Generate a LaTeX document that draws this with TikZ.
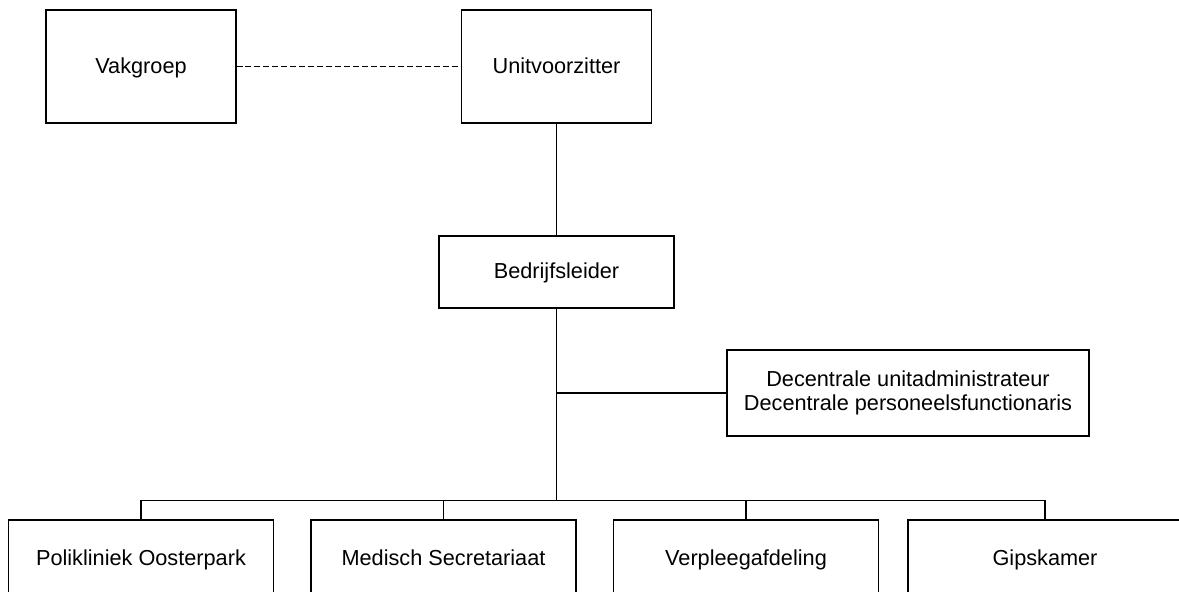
\documentclass[tikz,border=0pt]{standalone}
\usepackage{fontspec}
\setmainfont{Liberation Sans}
\usepackage{tikz}
\tikzstyle{topbox} = [rectangle, minimum width=3.8cm, minimum height=2.26cm, text height=0.92em, text depth=0.13em, text centered, draw=black, line width=0.6pt]
\tikzstyle{leaderbox} = [rectangle, minimum width=4.7cm, minimum height=1.44cm, text height=0.92em, text depth=0.13em, text centered, draw=black, line width=0.6pt]
\tikzstyle{staffbox} = [rectangle, minimum width=7.24cm, minimum height=1.72cm, align=center, draw=black, line width=0.6pt]
\tikzstyle{deptbox} = [rectangle, minimum width=5.3cm, minimum height=1.56cm, text height=0.92em, text depth=0.13em, text centered, draw=black, line width=0.6pt]
\tikzstyle{link} = [draw=black, line width=0.6pt]
\tikzstyle{dashlink} = [draw=black, line width=0.6pt, dash pattern=on 3.4pt off 1.7pt]

\begin{document}
\begin{tikzpicture}[font=\fontsize{12.35}{13.4}\selectfont]
		\useasboundingbox (0,0) rectangle (23.58,-11.84);
		\node (unit) [topbox] at (11.13,-1.33) {Unitvoorzitter};
		\node (vak) [topbox, left of = unit, xshift = -7.31cm] {Vakgroep};
		\node (bed) [leaderbox, below of = unit, yshift = -3.11cm] {Bedrijfsleider};
		\node (dec) [staffbox, right of = bed, xshift = 6.03cm, yshift = -2.42cm] {Decentrale unitadministrateur\\Decentrale personeelsfunctionaris};
		\node (med) [deptbox, below of = bed, xshift = -2.26cm, yshift = -4.74cm] {Medisch Secretariaat};
		\node (pol) [deptbox, left of = med, xshift = -5.05cm] {Polikliniek Oosterpark};
		\node (ver) [deptbox, right of = med, xshift = 5.05cm] {Verpleegafdeling};
		\node (gip) [deptbox, minimum width=5.48cm, right of = ver, xshift = 4.98cm] {Gipskamer};
		\path (med.north) ++(0,0.38) coordinate (bus);
		\draw [dashlink] (vak) -- (unit);
		\draw [link] (unit) -- (bed);
		\draw [link] (bed) -- (bed.south |- bus);
		\draw [link] (dec.west) -- (dec.west -| bed.south);
		\draw [link] (pol.north) |- (bus) -| (gip.north);
		\draw [link] (med.north) -- (bus);
		\draw [link] (ver.north) -- (ver.north |- bus);
	\end{tikzpicture}
\end{document}
